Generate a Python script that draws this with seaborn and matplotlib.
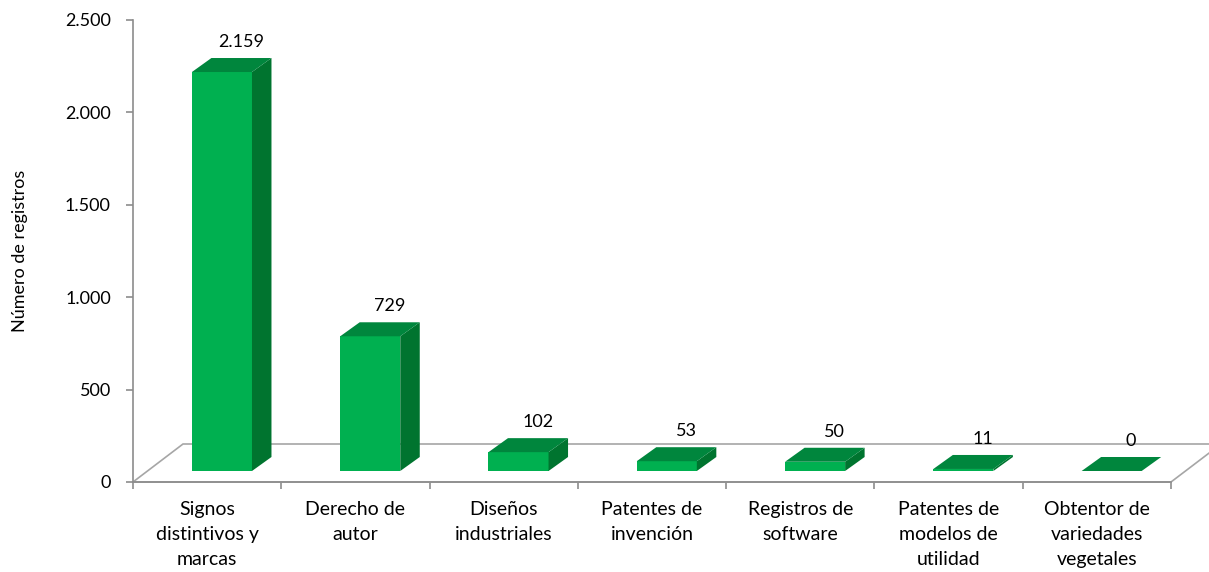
import matplotlib
matplotlib.use("Agg")
import matplotlib.pyplot as plt
from matplotlib.patches import Polygon
from matplotlib.ticker import FuncFormatter, FixedLocator
import pandas as pd
import seaborn as sns

# Registros por tipo de propiedad intelectual
categorias = [
    "Signos\ndistintivos y\nmarcas",
    "Derecho de\nautor",
    "Diseños\nindustriales",
    "Patentes de\ninvención",
    "Registros de\nsoftware",
    "Patentes de\nmodelos de\nutilidad",
    "Obtentor de\nvariedades\nvegetales",
]
registros = [2159, 729, 102, 53, 50, 11, 0]
ticks_y = [0, 500, 1000, 1500, 2000, 2500]

FRONT = "#00B050"
TOP = "#00863D"
SIDE = "#00742F"
AXIS_GREY = "#8C8C8C"
FLOOR_GREY = "#A6A6A6"

sns.set_theme(style="white")
plt.rcParams["font.family"] = ["Lato", "DejaVu Sans"]

W, H = 1209, 572
fig = plt.figure(figsize=(W / 100, H / 100), dpi=100)
left_px, right_px, bottom_px, top_px = 133, 1171, 482, 20
ax = fig.add_axes([left_px / W, 1 - bottom_px / H,
                   (right_px - left_px) / W, (bottom_px - top_px) / H])

df = pd.DataFrame({"categoria": categorias, "registros": registros})
sns.barplot(data=df, x="categoria", y="registros", color=FRONT,
            saturation=1, width=0.405, ax=ax, zorder=3)

n = len(categorias)
ax.set_xlim(-0.5, n - 0.5)
ax.set_ylim(0, 2500)

# pixel -> data unit conversion for the pseudo-3D offsets
px_x = n / (right_px - left_px)
px_y = 2500 / (bottom_px - top_px)

# floor of the 3D plot
fdx, fdy = 50 * px_x, 38 * px_y
floor = Polygon([(-0.5, 0), (n - 0.5, 0), (n - 0.5 + fdx, fdy), (-0.5 + fdx, fdy)],
                closed=True, facecolor="none", edgecolor=FLOOR_GREY,
                linewidth=1.2, clip_on=False, zorder=1)
ax.add_patch(floor)

# bars sit at mid depth of the floor
sx, sy = 14.8 * px_x, 11 * px_y
ddx, ddy = 19.5 * px_x, 14 * px_y
for patch, val in zip(ax.patches[:n], registros):
    x0 = patch.get_x()
    w = patch.get_width()
    h = patch.get_height()
    patch.set_x(x0 + sx)
    patch.set_y(sy)
    patch.set_clip_on(False)
    patch.set_edgecolor("none")
    fx0, fx1 = x0 + sx, x0 + sx + w
    ftop = sy + h
    top = Polygon([(fx0, ftop), (fx1, ftop), (fx1 + ddx, ftop + ddy), (fx0 + ddx, ftop + ddy)],
                  closed=True, facecolor=TOP, edgecolor="none", clip_on=False, zorder=4)
    side = Polygon([(fx1, sy), (fx1, ftop), (fx1 + ddx, ftop + ddy), (fx1 + ddx, sy + ddy)],
                   closed=True, facecolor=SIDE, edgecolor="none", clip_on=False, zorder=4)
    ax.add_patch(side)
    ax.add_patch(top)
    ax.text(fx0 + w / 2 + ddx, ftop + ddy + 8 * px_y, f"{val:,.0f}".replace(",", "."),
            ha="center", va="bottom", fontsize=13, color="black", zorder=5)

# axes styling
sns.despine(ax=ax, top=True, right=True)
for side_name in ("left", "bottom"):
    ax.spines[side_name].set_color(AXIS_GREY)
    ax.spines[side_name].set_linewidth(1.2)

ax.yaxis.set_major_locator(FixedLocator(ticks_y))
ax.yaxis.set_major_formatter(FuncFormatter(lambda v, p: f"{v:,.0f}".replace(",", ".")))
ax.tick_params(axis="y", which="major", left=True, length=5, width=1.2,
               color=AXIS_GREY, labelsize=13, labelcolor="black", pad=11)

ax.set_xticks(range(n))
ax.set_xticklabels(categorias, fontsize=14, linespacing=1.55)
ax.xaxis.set_minor_locator(FixedLocator([i - 0.5 for i in range(n + 1)]))
ax.tick_params(axis="x", which="major", length=0, pad=14, labelcolor="black")
ax.tick_params(axis="x", which="minor", bottom=True, length=5, width=1.2, color=AXIS_GREY)

ax.set_xlabel("")
ax.set_ylabel("")
fig.text(20 / W, 1 - 251 / H, "Número de registros", rotation=90,
         ha="center", va="center", fontsize=13, color="black")

ax.grid(False)
fig.savefig("out.png", dpi=100, facecolor="white")
